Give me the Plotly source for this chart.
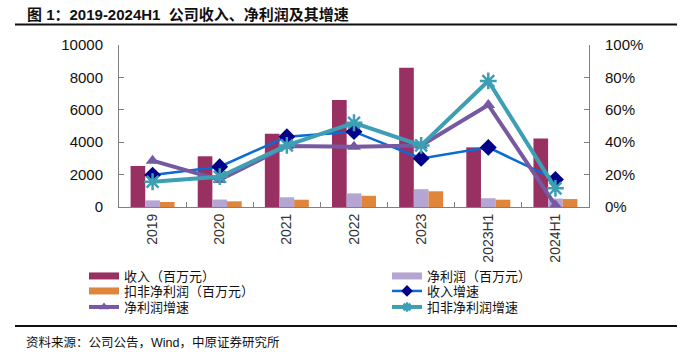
import plotly.graph_objects as go

categories = ["2019", "2020", "2021", "2022", "2023", "2023H1", "2024H1"]
revenue = [2530, 3130, 4520, 6600, 8600, 3680, 4230]
net_profit = [410, 460, 600, 840, 1100, 540, 520]
deducted_profit = [310, 350, 450, 690, 970, 450, 490]
revenue_growth = [0.197, 0.249, 0.434, 0.465, 0.300, 0.368, 0.170]
net_growth = [0.286, 0.167, 0.376, 0.372, 0.380, 0.630, 0.010]
deducted_growth = [0.156, 0.187, 0.380, 0.520, 0.380, 0.778, 0.115]

names = ["收入（百万元）", "净利润（百万元）", "扣非净利润（百万元）",
         "收入增速", "净利润增速", "扣非净利润增速"]

C_REV = "#983062"
C_NET = "#B4A5D2"
C_DED = "#E0853C"
C_RG_LINE = "#0A6AD6"
C_RG_MK = "#000088"
C_NG = "#7659A0"
C_DG = "#3E9EB3"

FONT_LAT = "Liberation Sans, Arial, Noto Sans CJK SC"
FONT_CJK = "Liberation Sans, Noto Sans CJK SC"

fig = go.Figure()

bar_colors = [C_REV, C_NET, C_DED]
bar_data = [revenue, net_profit, deducted_profit]
for nm, vals, col in zip(names[:3], bar_data, bar_colors):
    fig.add_trace(go.Bar(x=categories, y=vals, name=nm, marker_color=col,
                         marker_line_width=0, showlegend=False, yaxis="y"))

line_specs = [
    (revenue_growth, dict(color=C_RG_LINE, width=2.5),
     dict(symbol="diamond", color=C_RG_MK), 13, 9),
    (net_growth, dict(color=C_NG, width=4),
     dict(symbol="triangle-up", color=C_NG), 12, 9),
    (deducted_growth, dict(color=C_DG, width=4),
     dict(symbol="asterisk-open", line=dict(color=C_DG, width=2.5)), 14, 8),
]
for nm, (vals, ln, mk, size, _) in zip(names[3:], line_specs):
    fig.add_trace(go.Scatter(x=categories, y=vals, name=nm, yaxis="y2",
                             mode="lines+markers", line=ln,
                             marker=dict(size=size, **mk), showlegend=False))

# legend entries (proxies with swatch styling like the original)
legend_keys = ["legend", "legend2", "legend3", "legend4", "legend5", "legend6"]
for i, (nm, col) in enumerate(zip(names[:3], bar_colors)):
    fig.add_trace(go.Scatter(x=[categories[0]], y=[None], name=nm, mode="lines",
                             line=dict(color=col, width=7), legend=legend_keys[i]))
for j, (nm, (vals, ln, mk, size, lsize)) in enumerate(zip(names[3:], line_specs)):
    fig.add_trace(go.Scatter(x=[categories[0]], y=[None], name=nm, yaxis="y2",
                             mode="lines+markers", line=ln,
                             marker=dict(size=lsize, **mk), legend=legend_keys[3 + j]))

col_x = [84 / 696, 387 / 696]
row_y = [1 - 276 / 352, 1 - 291 / 352, 1 - 307 / 352]
slots = [(0, 0), (1, 0), (0, 1), (1, 1), (0, 2), (1, 2)]
legend_layout = {}
for key, (c, r) in zip(legend_keys, slots):
    legend_layout[key] = dict(x=col_x[c], y=row_y[r], xref="container", yref="container",
                              xanchor="left", yanchor="middle", bgcolor="rgba(0,0,0,0)",
                              font=dict(size=13, family=FONT_CJK, color="#111"),
                              borderwidth=0)

fig.update_layout(
    width=696, height=352,
    margin=dict(l=119, r=107, t=45, b=145, autoexpand=False),
    paper_bgcolor="white", plot_bgcolor="white",
    barmode="group", bargap=0.345, bargroupgap=0,
    font=dict(family=FONT_LAT, color="#111"),
    xaxis=dict(type="category", categoryorder="array", categoryarray=categories,
               range=[-0.5, len(categories) - 0.5],
               showline=True, linecolor="#808080", linewidth=1,
               ticks="inside", ticklen=5, tickcolor="#808080", tickson="boundaries",
               tickangle=-90, tickfont=dict(size=14, family="Liberation Sans Narrow, Liberation Sans, Arial", color="#333"),
               showgrid=False, zeroline=False),
    yaxis=dict(range=[0, 10000], dtick=2000, tickformat="d", showline=True, linecolor="#808080",
               ticks="inside", ticklen=5, tickcolor="#808080", showgrid=False,
               zeroline=False, tickfont=dict(size=15), ticklabelstandoff=12),
    yaxis2=dict(range=[0, 1], dtick=0.2, tickformat=".0%", overlaying="y", side="right",
                showline=True, linecolor="#808080", ticks="inside", ticklen=5,
                tickcolor="#808080", showgrid=False, zeroline=False,
                tickfont=dict(size=15), ticklabelstandoff=12),
    **legend_layout,
)

pw = 470.0
ph = 162.0
def px(x):
    return (x - 119) / pw
def py(y):
    return (207 - y) / ph

fig.add_annotation(x=px(25), y=py(14), xref="paper", yref="paper", xanchor="left",
                   yanchor="middle", showarrow=False,
                   text="<b>图 1：2019-2024H1  公司收入、净利润及其增速</b>",
                   font=dict(size=15, family=FONT_CJK, color="#111"))
fig.add_annotation(x=px(24), y=py(342), xref="paper", yref="paper", xanchor="left",
                   yanchor="middle", showarrow=False,
                   text="资料来源：公司公告，Wind，中原证券研究所",
                   font=dict(size=12.5, family=FONT_CJK, color="#111"))
fig.add_shape(type="line", xref="paper", yref="paper", x0=px(15), x1=px(677),
              y0=py(24.5), y1=py(24.5), line=dict(color="#111", width=2))
fig.add_shape(type="line", xref="paper", yref="paper", x0=px(15), x1=px(677),
              y0=py(326), y1=py(326), line=dict(color="#111", width=2))

fig.write_html("out.html")
